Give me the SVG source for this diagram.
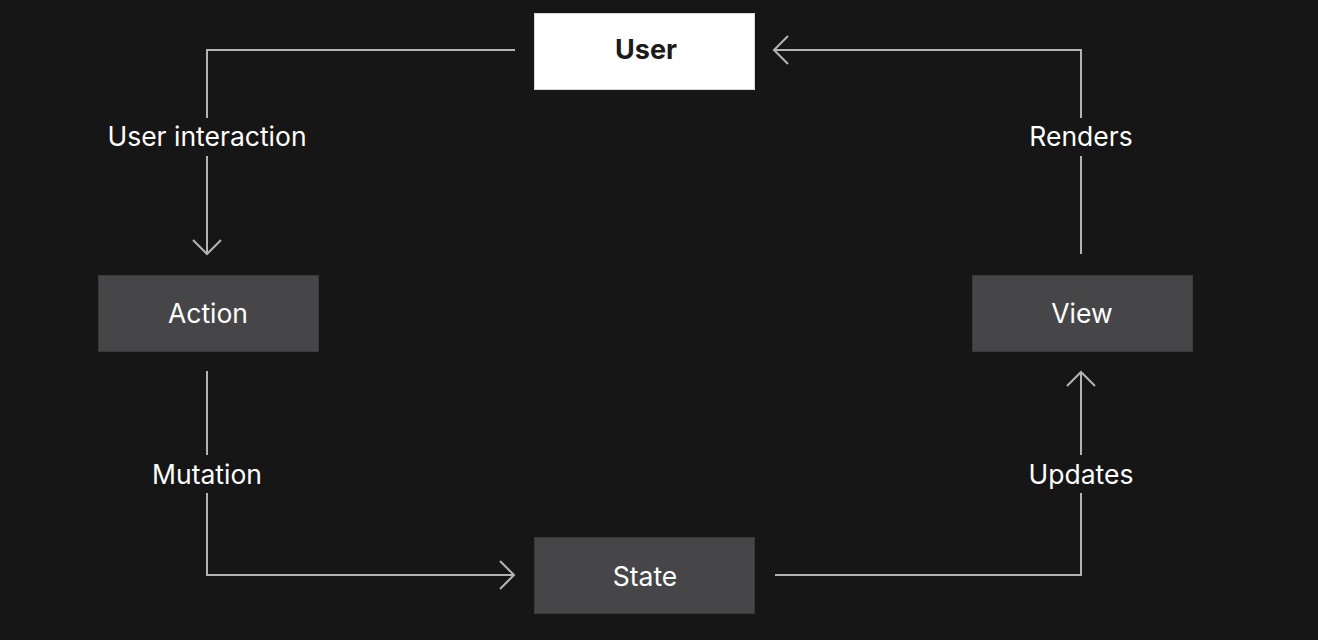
<svg xmlns="http://www.w3.org/2000/svg" width="1318" height="640" viewBox="0 0 1318 640">
<style>
.box{fill:#464648;stroke:#3a3a3c;stroke-width:1}
.ubox{fill:#ffffff;stroke:#d8d8d8;stroke-width:1}
.t{font-family:Inter,"Noto Sans",sans-serif;font-size:26.5px;fill:#ffffff;text-anchor:middle;dominant-baseline:central}
.ut{font-family:Inter,"Noto Sans",sans-serif;font-size:27px;font-weight:700;fill:#1a1a1a;text-anchor:middle;dominant-baseline:central}
.c{fill:none;stroke:#b4b4b4;stroke-width:2}
</style>
<rect width="1318" height="640" fill="#161616"/>
<g id="connectors">
<polyline class="c" points="515,50 207,50 207,118"/>
<polyline class="c" points="207,156 207,254"/>
<polyline class="c" points="193,240 207,254 221,240"/>
<polyline class="c" points="207,371 207,455"/>
<polyline class="c" points="207,493 207,575 514,575"/>
<polyline class="c" points="500,561 514,575 500,589"/>
<polyline class="c" points="775,575 1081,575 1081,493"/>
<polyline class="c" points="1081,455 1081,372"/>
<polyline class="c" points="1067,386 1081,372 1095,386"/>
<polyline class="c" points="1081,254 1081,156"/>
<polyline class="c" points="1081,118 1081,50 774,50"/>
<polyline class="c" points="788,36 774,50 788,64"/>
<text class="t" x="207" y="136">User interaction</text>
<text class="t" x="207" y="474">Mutation</text>
<text class="t" x="1081" y="474">Updates</text>
<text class="t" x="1081" y="136">Renders</text>
</g>
<g id="user"><rect class="ubox" x="534.5" y="13.5" width="220" height="76"/><text class="ut" x="646" y="49">User</text></g>
<g id="action"><rect class="box" x="98.5" y="275.5" width="220" height="76"/><text class="t" x="208" y="313">Action</text></g>
<g id="view"><rect class="box" x="972.5" y="275.5" width="220" height="76"/><text class="t" x="1082" y="313">View</text></g>
<g id="state"><rect class="box" x="534.5" y="537.5" width="220" height="76"/><text class="t" x="645" y="576">State</text></g>
</svg>
